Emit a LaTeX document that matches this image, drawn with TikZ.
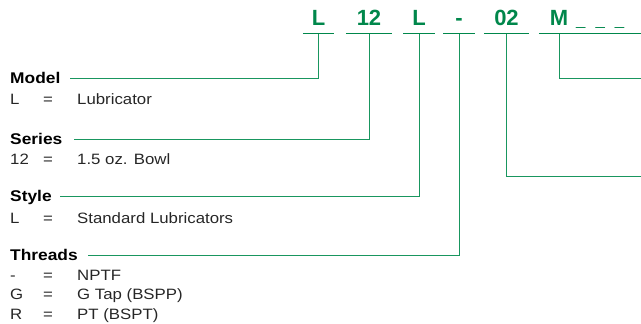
\documentclass[tikz,border=0pt]{standalone}
\usepackage{fontspec}
\setmainfont[FakeStretch=1.12]{Liberation Sans}
\newfontfamily\codefont{Liberation Sans}
\usepackage{tikz}
\usetikzlibrary{positioning}

\definecolor{codegreen}{RGB}{0,135,75}
\definecolor{linegreen}{RGB}{25,150,95}
\newcommand{\keyrow}[2]{\makebox[33pt][l]{#1}\makebox[34pt][l]{=}#2}

\tikzset{
  codebox/.style={font=\codefont\fontsize{22}{24}\selectfont\bfseries, text=codegreen,
    inner sep=0pt, text height=16pt, text depth=7.5pt, anchor=base},
  rule/.style={draw=codegreen, line width=1.2pt},
  link/.style={draw=linegreen, line width=1pt},
  head/.style={font=\fontsize{15.5}{18}\selectfont\bfseries, text=black,
    inner sep=0pt, text height=11pt, text depth=0pt, anchor=west},
  val/.style={font=\fontsize{15}{18}\selectfont, text=black!85,
    inner sep=0pt, anchor=base west}
}

\begin{document}
\begin{tikzpicture}[x=1pt,y=-1pt]
                \useasboundingbox (0,0) rectangle (641,324);
                \coordinate (edge) at (641,0);
                \coordinate (optE) at (641,176);
                \node[codebox,minimum width=31pt] (c1) at (318.5,26) {L};
                \node[codebox,minimum width=46pt] (c2) at (369,26) {12};
                \node[codebox,minimum width=31pt] (c3) at (419,26) {L};
                \node[codebox,minimum width=31pt] (c4) at (459,26) {-};
                \node[codebox,minimum width=45pt] (c5) at (506.5,26) {02};
                \node[codebox,minimum width=40pt] (c6) at (559,26) {M};
                \node[val,text=codegreen] (c6x) at (576,26) {\_\hspace{10pt}\_\hspace{10pt}\_};
                \foreach \c in {c1,c2,c3,c4,c5}
                  \draw[rule] (\c.south west) -- (\c.south east);
                \draw[rule] (c6.south west) -- (c6.south west -| edge);
                \node[head] (mdl) at (10,78) {Model};
                \node[val] (mdlv) at (10,104) {\keyrow{L}{Lubricator}};
                \node[head] (ser) at (10,139) {Series};
                \node[val] (serv) at (10,164) {\keyrow{12}{1.5 oz. Bowl}};
                \node[head] (sty) at (10,196) {Style};
                \node[val] (styv) at (10,223) {\keyrow{L}{Standard Lubricators}};
                \node[head] (thr) at (10,255) {Threads};
                \node[val] (thr1) at (10,280) {\keyrow{-}{NPTF}};
                \node[val] (thr2) at (10,299.5) {\keyrow{G}{G Tap (BSPP)}};
                \node[val] (thr3) at (10,319) {\keyrow{R}{PT (BSPT)}};
                \draw[link] (c1.south) |- ([xshift=9pt]mdl.east);
                \draw[link] (c2.south) |- ([xshift=11pt]ser.east);
                \draw[link] (c3.south) |- ([xshift=8pt]sty.east);
                \draw[link] (c4.south) |- ([xshift=10pt]thr.east);
                \draw[link] (c5.south) |- (optE);
                \draw[link] (c6.south) |- (mdl.east -| edge);
            \end{tikzpicture}
\end{document}
